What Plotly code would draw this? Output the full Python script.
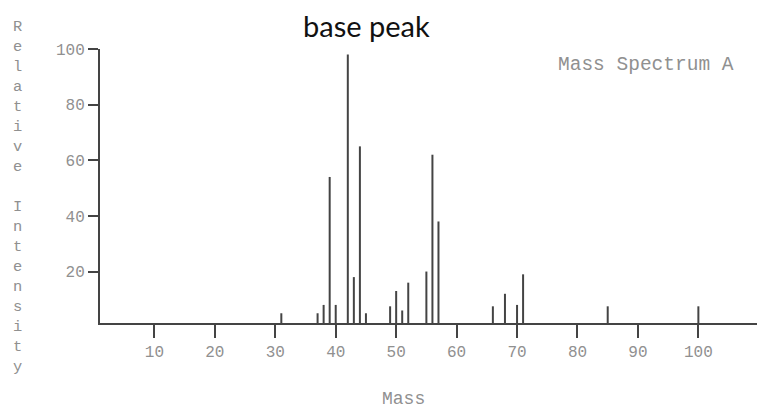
import plotly.graph_objects as go

# Data
masses = [31, 37, 38, 39, 40, 42, 43, 44, 45, 49, 50, 51, 52, 55, 56, 57, 66, 68, 70, 71, 85, 100]
intensity = [5, 5, 8, 54, 8, 98, 18, 65, 5, 7.5, 13, 6, 16, 20, 62, 38, 7.5, 12, 8, 19, 7.5, 7.5]
x_ticks = [10, 20, 30, 40, 50, 60, 70, 80, 90, 100]
y_ticks = [20, 40, 60, 80, 100]

xs, ys = [], []
for m, v in zip(masses, intensity):
    xs += [m, m, None]
    ys += [0, v, None]

fig = go.Figure()
fig.add_trace(go.Scatter(x=xs, y=ys, mode="lines",
                         line=dict(color="#444444", width=2),
                         hoverinfo="skip", showlegend=False))

mono = "Liberation Mono, Courier New, monospace"
grey = "#909090"

fig.update_layout(
    width=758, height=409,
    margin=dict(l=100, r=1, t=49, b=85.5),
    paper_bgcolor="white", plot_bgcolor="white",
    showlegend=False,
    xaxis=dict(range=[1, 109.7], tickvals=x_ticks, showgrid=False, zeroline=False,
               showline=True, linecolor="#444444", linewidth=2,
               ticks="outside", ticklen=13, tickwidth=2, tickcolor="#444444",
               tickfont=dict(family=mono, size=16, color=grey)),
    yaxis=dict(range=[1.5, 100], tickvals=y_ticks, showgrid=False, zeroline=False,
               showline=True, linecolor="#444444", linewidth=2,
               ticks="outside", ticklen=10, tickwidth=2, tickcolor="#444444",
               tickfont=dict(family=mono, size=16, color=grey)),
)

vertical = "<br>".join(list("Relative")) + "<br> <br>" + "<br>".join(list("Intensity"))
fig.add_annotation(text=vertical, xref="paper", yref="paper", x=-0.125, y=0.459,
                   xanchor="center", yanchor="middle", showarrow=False, align="center",
                   font=dict(family=mono, size=15.4, color=grey))
fig.add_annotation(text="Mass", xref="paper", yref="paper", x=(403 - 100) / 657,
                   y=(323.5 - 400) / 274.5, xanchor="center", yanchor="middle",
                   showarrow=False, font=dict(family=mono, size=18, color=grey))
fig.add_annotation(text="Mass Spectrum A", xref="paper", yref="paper", x=(646 - 100) / 657,
                   y=(323.5 - 65) / 274.5, xanchor="center", yanchor="middle",
                   showarrow=False, font=dict(family=mono, size=19.5, color=grey))
fig.add_annotation(text="base peak", xref="paper", yref="paper", x=(366 - 100) / 657,
                   y=(323.5 - 25) / 274.5, xanchor="center", yanchor="middle",
                   showarrow=False, font=dict(family="Lato, Open Sans, sans-serif", size=29, color="#111111"))

fig.write_html("out.html", config={"displayModeBar": False},
               post_script="document.body.style.margin='0';")
